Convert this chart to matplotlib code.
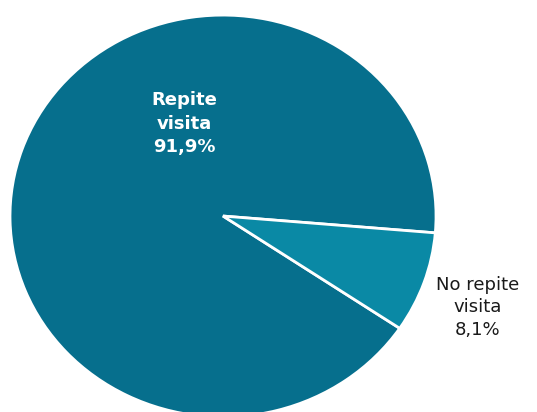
import matplotlib
matplotlib.use("Agg")
from matplotlib import pyplot as plt

labels = ['Repite\nvisita\n91,9%', 'No repite\nvisita\n8,1%']
sizes = [91.9, 8.1]
colors = ['#066f8d', '#0a89a5']

fig = plt.figure(figsize=(5.37, 4.12), dpi=100)
ax = fig.add_axes([0, 0, 1, 1])

wedges, _ = ax.pie(sizes, colors=colors, startangle=-4.8, counterclock=True,
                   radius=1,
                   wedgeprops=dict(edgecolor='white', linewidth=2))
# el circulo original esta un poco achatado
ax.set_aspect('auto')
ax.set_xlim(-1.047, 1.474)
ax.set_ylim(-0.975, 1.075)
ax.axis('off')

# etiquetas
ax.text(-0.183, 0.46, labels[0], ha='center', va='center', color='white',
        fontsize=13, fontweight='bold', linespacing=1.4)
ax.text(1.197, -0.455, labels[1], ha='center', va='center', color='#1a1a1a',
        fontsize=13, linespacing=1.35)

plt.savefig('out.png', dpi=100)
